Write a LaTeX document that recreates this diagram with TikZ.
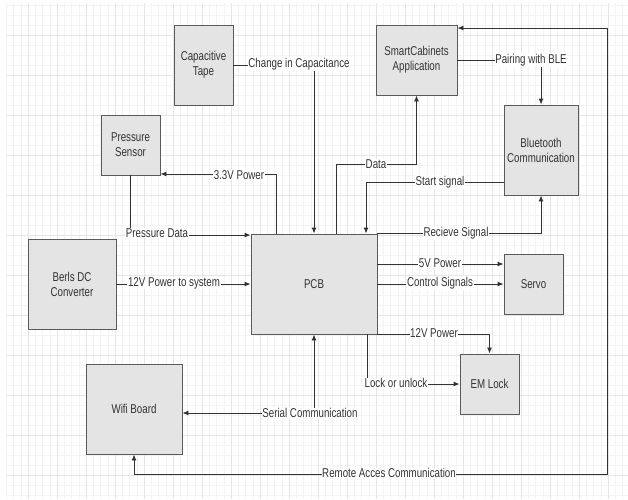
\documentclass[tikz,border=0pt]{standalone}
\usepackage{fontspec}
\setmainfont{Liberation Sans}[FakeStretch=0.76]
\usetikzlibrary{arrows.meta}
\definecolor{boxfill}{HTML}{E4E4E4}
\definecolor{boxline}{HTML}{5A5A5A}
\definecolor{conn}{HTML}{333333}
\definecolor{gridminor}{HTML}{F3F3F3}
\definecolor{gridmajor}{HTML}{E6E6E6}
\begin{document}
\begin{tikzpicture}[x=1pt,y=-1pt,
  blk/.style={draw=boxline,fill=boxfill,line width=0.9pt,rectangle,inner sep=0pt,
    align=center,text=conn,font=\fontsize{12.8}{15}\selectfont},
  lbl/.style={fill=white,inner sep=0.6pt,text=conn,font=\fontsize{12.8}{15}\selectfont},
  wire/.style={draw=conn,line width=0.9pt,-{Latex[length=6pt,width=5pt]}},
  wire2/.style={draw=conn,line width=0.9pt,{Latex[length=6pt,width=5pt]}-{Latex[length=6pt,width=5pt]}}
]
\useasboundingbox[fill=white] (0,0) rectangle (628,499);
% grid
\foreach \i in {0,...,85}{
  \pgfmathsetmacro\xx{6.6+7.25*\i}
  \draw[gridminor,line width=0.8pt] (\xx,3) -- (\xx,499);
}
\foreach \j in {0,...,49}{
  \pgfmathsetmacro\yy{5+10*\j}
  \draw[gridminor,line width=0.8pt] (6.6,\yy) -- (628,\yy);
}
\foreach \i in {0,...,21}{
  \pgfmathsetmacro\xx{28.35+29*\i}
  \draw[gridmajor,line width=0.8pt] (\xx,3) -- (\xx,499);
}
\foreach \j in {0,...,11}{
  \pgfmathsetmacro\yy{35+40*\j}
  \draw[gridmajor,line width=0.8pt] (6.6,\yy) -- (628,\yy);
}
% boxes
\node[blk,minimum width=59pt,minimum height=80pt] (tape) at (203.5,65) {Capacitive\\Tape};
\node[blk,minimum width=59pt,minimum height=60pt] (press) at (130.5,145) {Pressure\\Sensor};
\node[blk,minimum width=88pt,minimum height=90pt] (berls) at (72,284) {Berls DC\\Converter};
\node[blk,minimum width=96pt,minimum height=90pt] (wifi) at (134,409) {Wifi Board};
\node[blk,minimum width=126pt,minimum height=100pt] (pcb) at (314,284) {PCB};
\node[blk,minimum width=81pt,minimum height=70pt] (app) at (416.5,60) {SmartCabinets\\Application};
\node[blk,minimum width=74pt,minimum height=90pt] (bt) at (541,150) {Bluetooth\\Communication};
\node[blk,minimum width=59pt,minimum height=60pt] (servo) at (533.5,284) {Servo};
\node[blk,minimum width=59pt,minimum height=60pt] (em) at (489.5,384) {EM Lock};
% helper coordinates
\coordinate (r1) at (607,474);
\coordinate (d1) at (416.5,164);
% connectors
\draw[wire] (tape.east) -| (pcb.north);
\node[lbl] at (299,64) {Change in Capacitance};

\draw[wire] ([xshift=-38pt]pcb.north) |- ([yshift=1.5pt]press.south east);
\node[lbl] at (239,175) {3.3V Power};

\draw[wire] (press.south) |- ([yshift=-1.5pt]pcb.north west);
\node[lbl] at (157,233) {Pressure Data};

\draw[wire] (berls.east) -- (pcb.west);
\node[lbl] at (174,283) {12V Power to system};

\draw[wire2] (pcb.south) |- ([yshift=-4pt]wifi.east);
\node[lbl] at (310,413) {Serial Communication};

\draw[wire2] (wifi.south) |- (r1) |- ([yshift=32pt]app.east);
\node[lbl] at (389,473) {Remote Acces Communication};

\draw[wire] ([xshift=22pt]pcb.north) |- (d1) -- (app.south);
\node[lbl] at (376,164) {Data};

\draw[wire] ([yshift=-32pt]bt.west) -| ([xshift=52pt]pcb.north);
\node[lbl] at (440,182) {Start signal};

\draw[wire] (pcb.north east) -| (bt.south);
\node[lbl] at (456,233) {Recieve Signal};

\draw[wire] (app.east) -| (bt.north);
\node[lbl] at (531,60) {Pairing with BLE};

\draw[wire] ([yshift=20pt]pcb.east) -- ([yshift=20pt]servo.west);
\node[lbl] at (440,263) {5V Power};

\draw[wire] (pcb.east) -- (servo.west);
\node[lbl] at (440,283) {Control Signals};

\draw[wire] (pcb.south east) -| (em.north);
\node[lbl] at (434,333) {12V Power};

\draw[wire] ([xshift=53pt]pcb.south) |- (em.west);
\node[lbl] at (396,383) {Lock or unlock};
\end{tikzpicture}
\end{document}
